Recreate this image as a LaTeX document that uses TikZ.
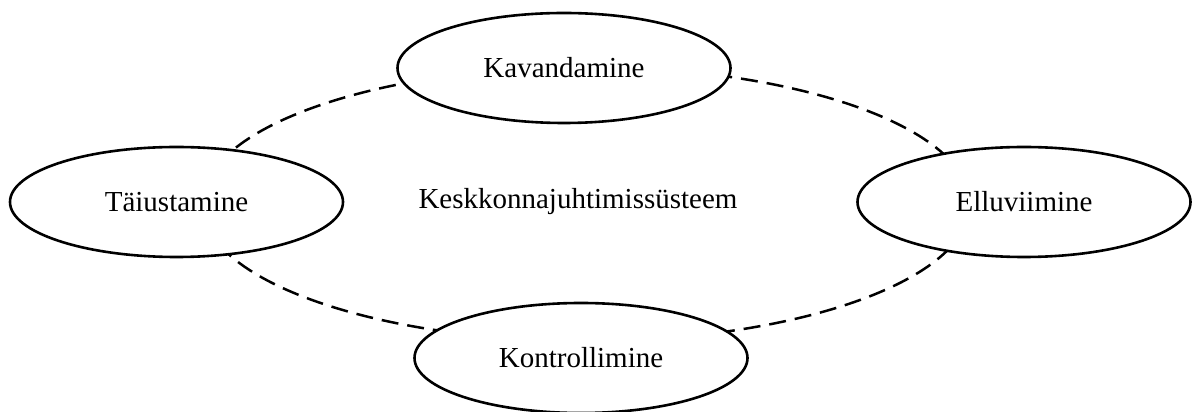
\documentclass[tikz,border=0pt]{standalone}
\usepackage{fontspec}
\setmainfont{Liberation Serif}
\usetikzlibrary{shapes.geometric}
\begin{document}
\begin{tikzpicture}[x=1pt,y=1pt,
  phase/.style={ellipse, draw=black, line width=2.6pt, fill=white,
    minimum width=333pt, minimum height=110pt, inner sep=0pt,
    font=\fontsize{29}{34}\selectfont},
  cycleline/.style={draw=black, line width=2.5pt, dash pattern=on 17pt off 9pt},
  centre/.style={font=\fontsize{29}{34}\selectfont, text depth=0pt, inner sep=0pt}]
  \useasboundingbox (0,0) rectangle (1192,412);
  % dashed cycle behind the four phases
  \coordinate (mid) at (586,208);
  \draw[cycleline] (mid) ellipse [x radius=384, y radius=137];
  % the four phases of the cycle
  \node[phase] (plan) at (564,344) {Kavandamine};
  \node[phase] (do) at (1024,210) {Elluviimine};
  \node[phase] (check) at (581,54) {Kontrollimine};
  \node[phase] (act) at (176.5,210) {Täiustamine};
  % system name in the middle
  \node[centre] (sys) at (578,214) {Keskkonnajuhtimissüsteem};
\end{tikzpicture}
\end{document}
